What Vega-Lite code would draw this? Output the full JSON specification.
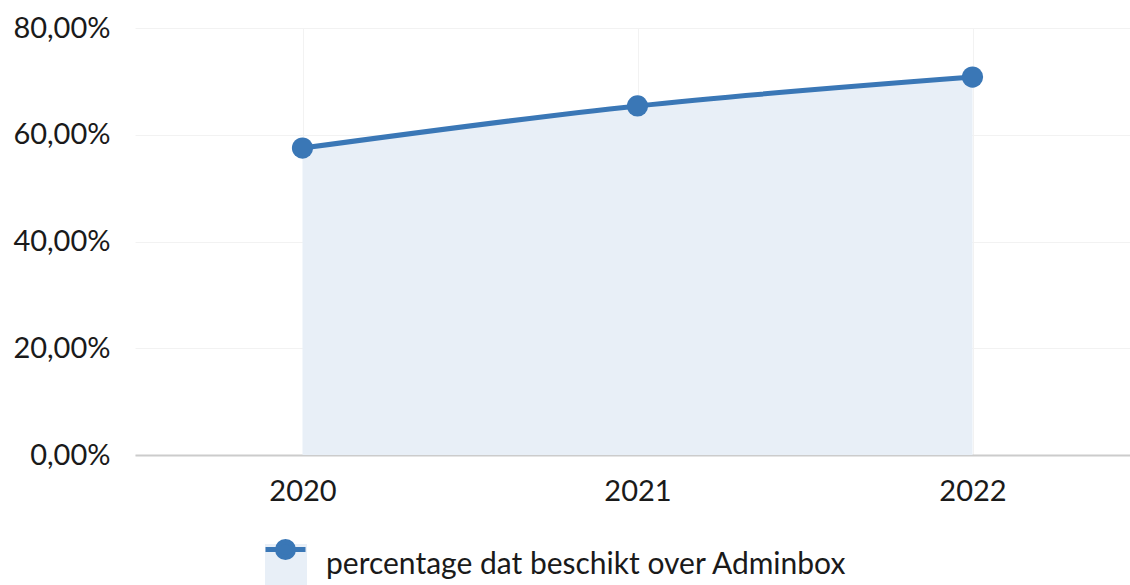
{
  "$schema": "https://vega.github.io/schema/vega-lite/v6.json",
  "width": 995,
  "height": 427,
  "autosize": {"type": "none"},
  "padding": {"left": 135, "top": 28, "right": 0, "bottom": 130},
  "background": "white",
  "config": {
    "view": {"stroke": null},
    "font": "Lato",
    "axis": {"labelFont": "Lato", "labelFontSize": 29, "labelColor": "#1a1a1a", "ticks": false, "gridColor": "#f2f2f2", "gridWidth": 1, "title": null}
  },
  "data": {
    "values": [
      {"year": "2020", "value": 0.575, "series": "percentage dat beschikt over Adminbox"},
      {"year": "2021", "value": 0.654, "series": "percentage dat beschikt over Adminbox"},
      {"year": "2022", "value": 0.708, "series": "percentage dat beschikt over Adminbox"}
    ]
  },
  "encoding": {
    "x": {
      "field": "year", "type": "ordinal",
      "scale": {"type": "point", "padding": 0.5, "range": [0, 1005]},
      "axis": {"labelAngle": 0, "labelPadding": 22, "domain": true, "domainColor": "#cccccc", "domainWidth": 2, "grid": true}
    },
    "y": {
      "field": "value", "type": "quantitative",
      "scale": {"domain": [0, 0.8], "nice": false},
      "axis": {"values": [0, 0.2, 0.4, 0.6, 0.8], "domain": false, "labelPadding": 25, "labelExpr": "replace(format(datum.value, '.2%'), '.', ',')"}
    }
  },
  "layer": [
    {
      "mark": {"type": "area", "interpolate": "monotone"},
      "encoding": {
        "fill": {
          "field": "series", "type": "nominal",
          "scale": {"range": ["#e8eff7"]},
          "legend": {"orient": "none", "legendX": 130, "legendY": 516, "title": null, "symbolType": "square", "symbolSize": 1764, "symbolStrokeWidth": 0, "labelFont": "Lato", "labelFontSize": 30, "labelColor": "#1a1a1a", "labelOffset": 19, "labelLimit": 900}
        }
      }
    },
    {
      "mark": {"type": "line", "interpolate": "monotone", "strokeWidth": 5},
      "encoding": {
        "stroke": {
          "field": "series", "type": "nominal",
          "scale": {"domain": ["percentage dat beschikt over Adminbox"], "range": ["#3a77b6"]},
          "legend": {"orient": "none", "legendX": 128, "legendY": 499, "title": null, "symbolType": "M-1,0L1,0M-0.4,0A0.4,0.4,0,1,1,0.4,0A0.4,0.4,0,1,1,-0.4,0Z", "symbolSize": 1600, "symbolStrokeWidth": 5, "symbolFillColor": "#3a77b6", "labelExpr": "''", "labelFontSize": 1}
        }
      }
    },
    {
      "mark": {"type": "point", "filled": true, "size": 450, "color": "#3a77b6", "opacity": 1}
    }
  ]
}
